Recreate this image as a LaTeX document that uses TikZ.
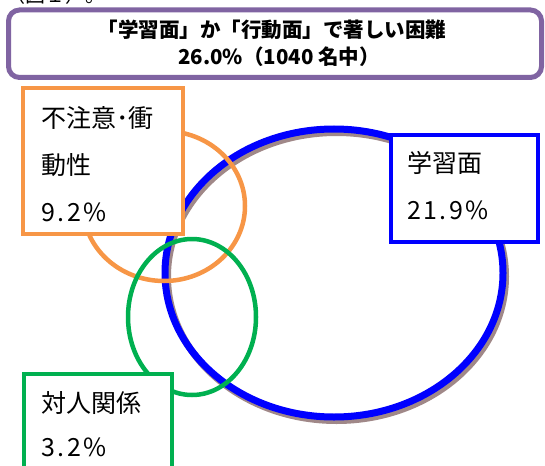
\documentclass[tikz,border=0pt]{standalone}
\usepackage{fontspec}
\setmainfont{Noto Sans CJK JP}
\newfontfamily\numfont[LetterSpace=10]{Noto Sans CJK JP}
\definecolor{titlepurple}{HTML}{8064A2}
\definecolor{setblue}{HTML}{0000FF}
\definecolor{setshadow}{HTML}{A08888}
\definecolor{setorange}{HTML}{F79646}
\definecolor{setgreen}{HTML}{00B050}
\tikzset{
  lbltext/.style={anchor=west, inner sep=0pt, font=\fontsize{25}{28}\selectfont},
  numtext/.style={anchor=west, inner sep=0pt, font=\fontsize{25}{28}\selectfont\numfont},
  lblbox/.style={draw=#1, fill=white, line width=3.8pt},
  titletext/.style={inner sep=0pt, font=\fontsize{20.5}{23}\selectfont\bfseries}
}
\begin{document}
\begin{tikzpicture}[x=1pt,y=-1pt]
\useasboundingbox (0,0) rectangle (545,465);
% cut-off caption at top
\node[anchor=base west, inner sep=0pt, font=\fontsize{20}{22}\selectfont] (cap) at (5,3) {（図１）。};
% title box
\draw[titlepurple, line width=5pt, rounded corners=11pt, fill=white] (8.5,10) rectangle (541.5,77.5);
\node[titletext] (t1) at (272,30) {「学習面」か「行動面」で著しい困難};
\node[titletext] (t2) at (279,57) {26.0\%（1040 名中）};
% sets
\draw[setshadow, line width=7pt] (336.5,276.5) ellipse [x radius=169, y radius=144];
\draw[setblue, line width=7pt] (334,273) ellipse [x radius=169, y radius=144];
\draw[setorange, line width=4.5pt] (164,206) ellipse [x radius=81, y radius=75];
\draw[setgreen, line width=4.5pt] (192,317) ellipse [x radius=64, y radius=78];
% label boxes
\draw[lblbox=setorange] (23,88) rectangle (183,234);
\node[lbltext] (o1) at (41,118) {不注意･衝};
\node[lbltext] (o2) at (41,165) {動性};
\node[numtext] (o3) at (41,212) {9.2\%};
\draw[lblbox=setblue, line width=3.5pt] (391,135) rectangle (538,242);
\node[lbltext] (b1) at (407,163) {学習面};
\node[numtext] (b2) at (407,210) {21.9\%};
\draw[lblbox=setgreen] (24,374) rectangle (172,490);
\node[lbltext] (g1) at (41,403) {対人関係};
\node[numtext] (g2) at (41,447) {3.2\%};
\end{tikzpicture}
\end{document}
